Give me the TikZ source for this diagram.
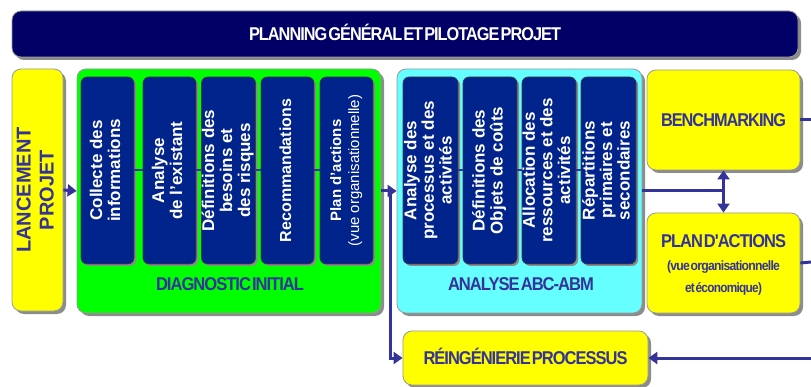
\documentclass[tikz,border=0pt]{standalone}
\usepackage{fontspec}
\setmainfont{Liberation Sans}
\newfontfamily\hfont[LetterSpace=-6,WordSpace=0.3]{Liberation Sans}
\usetikzlibrary{arrows.meta,shadows}
\definecolor{navy}{RGB}{0,0,102}
\definecolor{innerblue}{RGB}{0,35,140}
\definecolor{linec}{RGB}{51,51,153}
\definecolor{cyanbg}{RGB}{102,255,255}
\definecolor{greenbg}{RGB}{0,255,0}
\definecolor{yellowbg}{RGB}{255,255,0}
\tikzset{
  outerbox/.style={draw=black!40, line width=0.8pt, rounded corners=9pt, inner sep=0pt,
    drop shadow={shadow xshift=3pt, shadow yshift=-3pt, fill=black!45, opacity=1}},
  innerbox/.style={draw=black!75, fill=innerblue, line width=0.6pt, rounded corners=6pt,
    minimum width=53pt, minimum height=187pt, inner sep=0pt, text=white,
    font=\bfseries\fontsize{17}{18}\selectfont,
    drop shadow={shadow xshift=2pt, shadow yshift=-2pt, fill=black!45, opacity=1}},
  heading/.style={inner sep=0pt, text=linec, font=\hfont\bfseries\fontsize{18.5}{20}\selectfont,
    text height=13pt, text depth=0pt},
  conn/.style={draw=linec, line width=3pt},
  link/.style={draw=linec, line width=2pt},
  tip/.style={-{Triangle[length=9pt,width=12pt]}},
  twotips/.style={{Triangle[length=9pt,width=12pt]}-{Triangle[length=9pt,width=12pt]}}
}
\newcommand{\rottext}[1]{\rotatebox{90}{\begin{tabular}{@{}c@{}}#1\end{tabular}}}
\newcommand{\fitw}[2]{\resizebox{#1}{\height}{#2}}
\begin{document}
\begin{tikzpicture}[x=1pt,y=-1pt]
\useasboundingbox (0,0) rectangle (811,387);

% banner
\node[outerbox, fill=navy, minimum width=786pt, minimum height=46pt, heading, text=white] (title) at (405,34)
  {\fitw{312pt}{PLANNING GÉNÉRAL ET PILOTAGE PROJET}};

% lancement
\node[outerbox, fill=yellowbg, minimum width=51pt, minimum height=242pt, text=linec,
  font=\bfseries\fontsize{20}{23}\selectfont] (lanc) at (37.5,190)
  {\rottext{LANCEMENT\\PROJET}};

% diagnostic
\node[outerbox, fill=greenbg, minimum width=304pt, minimum height=244pt] (green) at (229,191) {};
\node[innerbox] (d1) at (107.5,170.5) {\rottext{Collecte des\\informations}};
\node[innerbox] (d2) at (169.5,170.5) {\rottext{Analyse\\de l'existant}};
\node[innerbox] (d3) at (228.5,170.5) {\rottext{Définitions des\\besoins et\\des risques}};
\node[innerbox, font=\bfseries\fontsize{16}{18}\selectfont] (d4) at (287.5,170.5) {\rottext{Recommandations}};
\node[innerbox, font=\bfseries\fontsize{15}{18}\selectfont] (d5) at (346.5,170.5)
  {\rottext{Plan d'actions\\\mdseries\fontsize{15}{18}\selectfont (vue organisationnelle)}};
\node[heading] (diaglab) at (230,284) {\fitw{148pt}{DIAGNOSTIC INITIAL}};

% ABC-ABM
\node[outerbox, fill=cyanbg, minimum width=245pt, minimum height=244pt] (cyan) at (519.5,191) {};
\node[innerbox, minimum width=55pt, font=\bfseries\fontsize{17}{17.5}\selectfont] (c1) at (430.5,170.5)
  {\rottext{Analyse des\\processus et des\\activités}};
\node[innerbox, minimum width=54pt, font=\bfseries\fontsize{17}{17.5}\selectfont] (c2) at (490,170.5)
  {\rottext{Définitions des\\Objets de coûts}};
\node[innerbox, minimum width=54pt, font=\bfseries\fontsize{17}{17.5}\selectfont] (c3) at (549,170.5)
  {\rottext{Allocation des\\ressources et des\\activités}};
\node[innerbox, minimum width=55pt, font=\bfseries\fontsize{17}{17.5}\selectfont] (c4) at (608.5,170.5)
  {\rottext{Répartitions\\primaires et\\secondaires}};
\node[heading] (abclab) at (521,284) {\fitw{146pt}{ANALYSE ABC-ABM}};

% right column
\node[outerbox, fill=yellowbg, minimum width=153pt, minimum height=100pt, heading] (bench) at (723.5,120)
  {\fitw{125pt}{BENCHMARKING}};
\node[outerbox, fill=yellowbg, minimum width=153pt, minimum height=100pt, text=linec,
  font=\hfont\bfseries\fontsize{13.5}{22}\selectfont] (plan) at (723.5,263)
  {\begin{tabular}{@{}c@{}}\rule{0pt}{21.4pt}\fontsize{18.5}{20}\selectfont\fitw{125pt}{PLAN D'ACTIONS}\\[1pt]
   \fitw{113pt}{(vue organisationnelle}\\
   \fitw{77pt}{et économique)}\end{tabular}};

% reingenierie
\node[outerbox, fill=yellowbg, minimum width=245pt, minimum height=54pt, heading] (reing) at (525.5,358)
  {\fitw{204pt}{RÉINGÉNIERIE PROCESSUS}};

% connectors
\coordinate (split) at (390,191);
\coordinate (junc) at (723.5,191);
\coordinate (bout) at (811,120);
\coordinate (pout) at (811,262);
\coordinate (rin) at (811,358);

\draw[link] (d1.east) -- (d2.west);
\draw[link] (d2.east) -- (d3.west);
\draw[link] (d3.east) -- (d4.west);
\draw[link] (d4.east) -- (d5.west);
\draw[link] (c1.east) -- (c2.west);
\draw[link] (c2.east) -- (c3.west);
\draw[link] (c3.east) -- (c4.west);

\draw[conn, tip] (lanc.east) -- (green.west);
\draw[conn, tip] (green.east) -- (cyan.west);
\draw[conn, tip] (split) |- (reing.west);
\draw[conn] (cyan.east) -- (junc);
\draw[conn, twotips] (bench.south) -- (plan.north);
\draw[conn] (bench.east) -- (bout);
\draw[conn] (plan.east) -- (pout);
\draw[conn, tip] (rin) -- (reing.east);
\end{tikzpicture}
\end{document}
